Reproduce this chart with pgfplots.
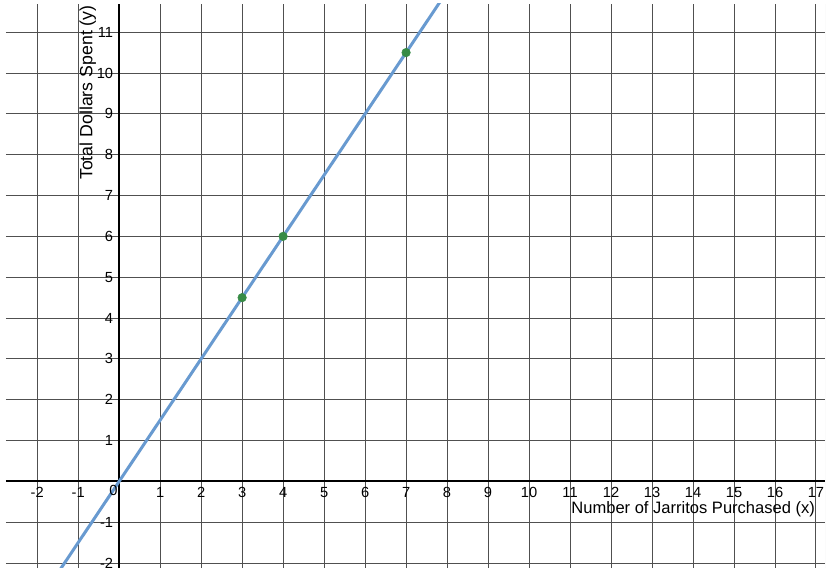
\documentclass[border=0pt]{standalone}
\usepackage{pgfplots}
\pgfplotsset{compat=1.18}
\usepackage{fontspec}
\setmainfont{Liberation Sans}
\definecolor{lineblue}{RGB}{104,154,208}
\definecolor{ptgreen}{RGB}{56,140,70}
\definecolor{gridgray}{RGB}{80,80,80}
\begin{document}
\begin{tikzpicture}
\fill[white] (-4.5pt,-1.5pt) rectangle (618.75pt,426pt);
\begin{axis}[
  name=ax,
  at={(0pt,0pt)}, anchor=south west,
  scale only axis,
  width=614.25pt, height=423pt,
  xmin=-2.76, xmax=17.22, ymin=-2.12, ymax=11.69,
  axis lines=middle,
  axis line style={black, line width=1.5pt, -},
  xtick={-2,-1,1,2,3,4,5,6,7,8,9,10,11,12,13,14,15,16,17},
  ytick={-2,-1,1,2,3,4,5,6,7,8,9,10,11},
  major tick length=0pt,
  grid=major,
  major grid style={gridgray, line width=0.75pt},
  tick label style={font=\fontsize{11}{12}\selectfont, text=black},
  xticklabel style={anchor=north, yshift=-1pt},
  yticklabel style={anchor=east, xshift=-1pt},
  /pgf/number format/assume math mode=true,
  clip=true,
]
\addplot[lineblue, line width=2.25pt, no marks] coordinates {(-1.6,-2.4) (8,12)};
\addplot[only marks, mark=*, mark size=3.2pt, mark options={fill=ptgreen, draw=ptgreen}] coordinates {(3,4.5) (4,6) (7,10.5)};
\node[anchor=north east, font=\fontsize{11}{12}\selectfont, inner sep=1pt] at (axis cs:0,-0.06) {0};
\node[anchor=east, font=\fontsize{12.4}{13}\selectfont, inner sep=0pt] at (rel axis cs:0.988,0.105) {Number of Jarritos Purchased (x)};
\node[anchor=east, rotate=90, font=\fontsize{13.3}{14}\selectfont, inner sep=0pt] at (rel axis cs:0.100,0.998) {Total Dollars Spent (y)};
\draw[black!12, line width=0.75pt] (rel axis cs:1,0) -- (rel axis cs:1,1);
\end{axis}
\pgfresetboundingbox
\useasboundingbox (-4.5pt,-1.5pt) rectangle (618.75pt,426pt);
\end{tikzpicture}
\end{document}
